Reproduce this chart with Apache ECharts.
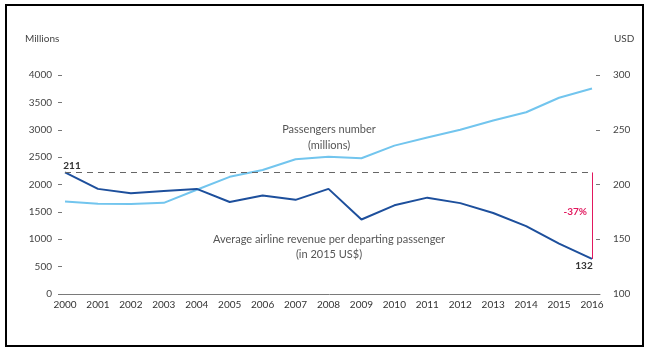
<!DOCTYPE html>
<html>
<head>
<meta charset="utf-8">
<script src="https://cdn.jsdelivr.net/npm/echarts@6/dist/echarts.min.js"></script>
<style>
  html, body { margin: 0; padding: 0; background: #fff; }
  #chart { width: 647px; height: 351px; }
</style>
</head>
<body>
<div id="chart"></div>
<script>
// Years on the horizontal axis
const years = [2000, 2001, 2002, 2003, 2004, 2005, 2006, 2007, 2008,
               2009, 2010, 2011, 2012, 2013, 2014, 2015, 2016];

// Passengers number, millions (left axis)
const passengers = [1690, 1650, 1645, 1665, 1905, 2140, 2265, 2460, 2505,
                    2480, 2710, 2860, 3000, 3170, 3320, 3585, 3755];

// Average airline revenue per departing passenger, 2015 US$ (right axis)
const revenue = [211, 196, 192, 194, 196, 184, 190, 186, 196,
                 168, 181, 188, 183, 174, 162, 146, 132];

// Axis tick values
const leftTicks = [0, 500, 1000, 1500, 2000, 2500, 3000, 3500, 4000];
const rightTicks = [100, 150, 200, 250, 300];

const FONT = 'Lato, "Open Sans", sans-serif';
const DARK = '#1d4f9c';
const LIGHT = '#72c5ee';
const PINK = '#e2185e';
const TEXT = '#444';

const first = revenue[0];
const last = revenue[revenue.length - 1];
const firstYear = years[0];
const lastYear = years[years.length - 1];
const change = Math.round((last - first) / first * 100);

const pair = (arr) => arr.map((v, i) => [years[i], v]);

const valueLabel = {
  show: true,
  fontSize: 10,
  fontWeight: 'bold',
  color: '#333',
  fontFamily: FONT
};

const chart = echarts.init(document.getElementById('chart'), null, { renderer: 'canvas' });

chart.setOption({
  animation: false,
  backgroundColor: '#fff',
  textStyle: { fontFamily: FONT },
  grid: { left: 59, right: 47, top: 75, bottom: 57 },
  xAxis: {
    type: 'value',
    min: 1999.818,
    max: 2016.243,
    axisLine: { show: true, lineStyle: { color: '#7a7a7a', width: 1 } },
    axisTick: { show: false },
    splitLine: { show: false },
    axisLabel: {
      customValues: years,
      color: '#333',
      fontSize: 10,
      fontFamily: FONT,
      margin: 6,
      formatter: (v) => String(v)
    }
  },
  yAxis: [
    {
      type: 'value',
      position: 'left',
      min: leftTicks[0],
      max: leftTicks[leftTicks.length - 1],
      interval: 500,
      offset: -3,
      axisLine: { show: false },
      axisTick: { show: true, length: 4, lineStyle: { color: '#777' } },
      splitLine: { show: false },
      axisLabel: { color: TEXT, fontSize: 10, fontFamily: FONT, margin: 10, formatter: (v) => String(v) }
    },
    {
      type: 'value',
      position: 'right',
      min: rightTicks[0],
      max: rightTicks[rightTicks.length - 1],
      interval: 50,
      offset: -4,
      axisLine: { show: false },
      axisTick: { show: true, length: 4, lineStyle: { color: '#777' } },
      splitLine: { show: false },
      axisLabel: { color: TEXT, fontSize: 10, fontFamily: FONT, margin: 17, formatter: (v) => String(v) }
    }
  ],
  series: [
    {
      name: 'Passengers number (millions)',
      type: 'line',
      yAxisIndex: 0,
      data: pair(passengers),
      symbol: 'none',
      lineStyle: { color: LIGHT, width: 2 },
      z: 3
    },
    {
      name: 'Average airline revenue per departing passenger',
      type: 'line',
      yAxisIndex: 1,
      data: pair(revenue),
      symbol: 'none',
      lineStyle: { color: DARK, width: 2 },
      z: 4,
      markLine: {
        silent: true,
        symbol: ['none', 'none'],
        label: { show: false },
        data: [
          [
            { coord: [firstYear, first], lineStyle: { color: '#666', width: 1, type: [6, 5] } },
            { coord: [lastYear, first] }
          ],
          [
            { coord: [lastYear, first], lineStyle: { color: PINK, width: 1, type: 'solid' } },
            { coord: [lastYear, last] }
          ]
        ]
      },
      markPoint: {
        silent: true,
        symbol: 'circle',
        symbolSize: 0,
        data: [
          {
            coord: [firstYear, first],
            label: Object.assign({}, valueLabel, {
              position: 'top', distance: 2, offset: [7, 0], formatter: String(first)
            })
          },
          {
            coord: [lastYear, last],
            label: Object.assign({}, valueLabel, {
              position: 'bottom', distance: 2, offset: [-8, 0], formatter: String(last)
            })
          },
          {
            coord: [lastYear, (first + last) / 2],
            label: Object.assign({}, valueLabel, {
              position: 'left', distance: 5, offset: [0, -4],
              formatter: change + '%', color: PINK
            })
          }
        ]
      }
    }
  ],
  graphic: [
    {
      type: 'rect',
      shape: { x: 6, y: 5, width: 637, height: 341 },
      style: { fill: 'none', stroke: '#000', lineWidth: 2 },
      silent: true
    },
    {
      type: 'text', left: 25, top: 34,
      style: { text: 'Millions', font: '10px ' + FONT, fill: TEXT }
    },
    {
      type: 'text', left: 614, top: 34,
      style: { text: 'USD', font: '10px ' + FONT, fill: TEXT }
    },
    {
      type: 'text', x: 329, y: 129,
      style: { text: 'Passengers number', font: '11px ' + FONT, fill: '#555', align: 'center', verticalAlign: 'middle' }
    },
    {
      type: 'text', x: 329, y: 145,
      style: { text: '(millions)', font: '11px ' + FONT, fill: '#555', align: 'center', verticalAlign: 'middle' }
    },
    {
      type: 'text', x: 329, y: 239,
      style: { text: 'Average airline revenue per departing passenger', font: '11px ' + FONT, fill: '#555', align: 'center', verticalAlign: 'middle' }
    },
    {
      type: 'text', x: 329, y: 254,
      style: { text: '(in 2015 US$)', font: '11px ' + FONT, fill: '#555', align: 'center', verticalAlign: 'middle' }
    }
  ]
});
</script>
</body>
</html>
